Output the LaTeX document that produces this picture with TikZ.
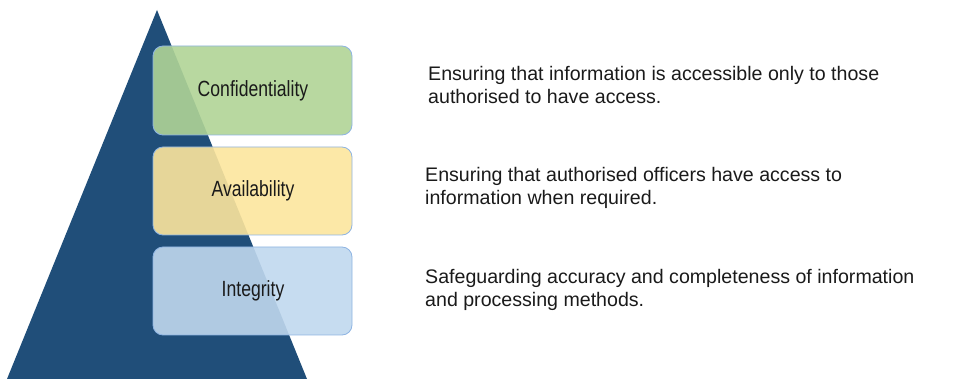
\documentclass[tikz,border=0pt]{standalone}
\usepackage{fontspec}
\setmainfont{Liberation Sans}
\definecolor{navy}{HTML}{204E79}
\definecolor{boxgreen}{HTML}{B0D496}
\definecolor{boxyellow}{HTML}{FCE59D}
\definecolor{boxblue}{HTML}{C0D8EE}
\definecolor{boxedge}{HTML}{8EB4E3}
\definecolor{ink}{HTML}{1A1A1A}
\begin{document}
\begin{tikzpicture}[x=1pt,y=-1pt,
  tier/.style={draw=boxedge,line width=0.8pt,rounded corners=10pt,fill opacity=0.9},
  tierlabel/.style={inner sep=0pt,text=ink,font=\fontsize{22}{25}\selectfont},
  desc/.style={anchor=base west,inner sep=0pt,align=left,text=ink,font=\fontsize{19.6}{23.3}\selectfont}]
\useasboundingbox (0,0) rectangle (956,379);
\fill[navy] (157,10) coordinate (apex) -- (307,379) coordinate (br) -- (7,379) coordinate (bl) -- cycle;
\path[tier,fill=boxgreen] (153,46) rectangle (352,135);
\path[tier,fill=boxyellow] (153,147) rectangle (352,235);
\path[tier,fill=boxblue] (153,247) rectangle (352,335);
\node[tierlabel] (conf) at (253,90.5) {\scalebox{0.8}[1]{Confidentiality}};
\node[tierlabel] (avail) at (253,191) {\scalebox{0.8}[1]{Availability}};
\node[tierlabel] (integ) at (253,291) {\scalebox{0.8}[1]{Integrity}};
\node[desc] (d1) at (428,104) {Ensuring that information is accessible only to those\\authorised to have access.};
\node[desc] (d2) at (425,205) {Ensuring that authorised officers have access to\\information when required.};
\node[desc] (d3) at (425,306.7) {Safeguarding accuracy and completeness of information\\and processing methods.};
\end{tikzpicture}
\end{document}
